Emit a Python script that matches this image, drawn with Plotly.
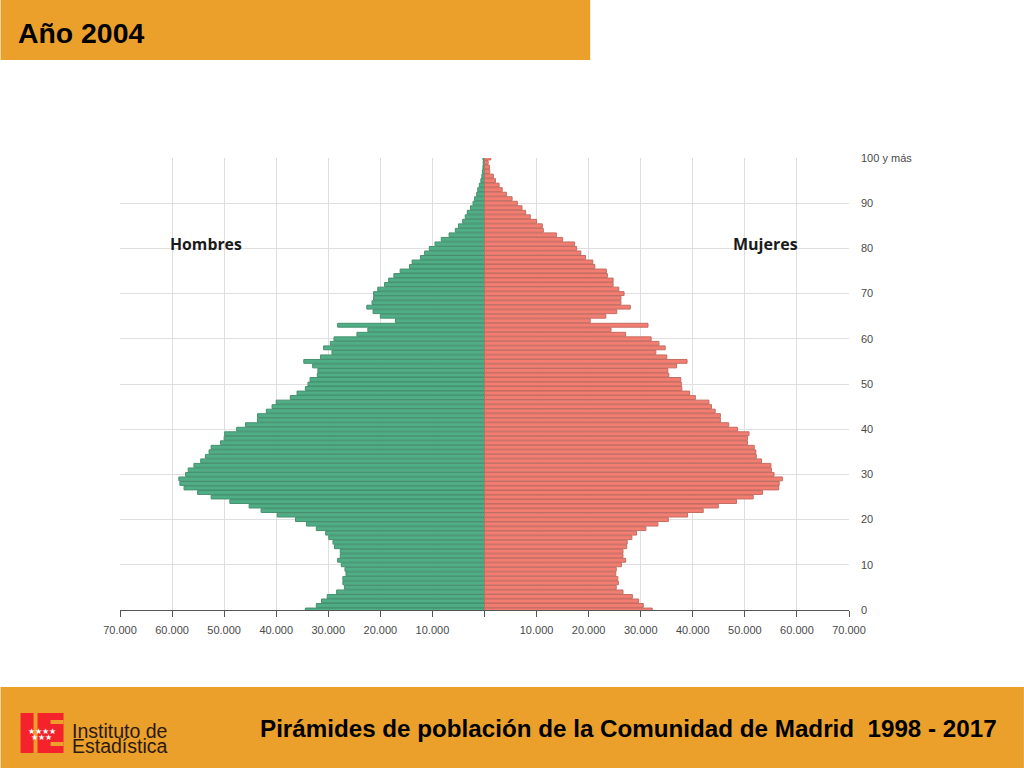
import plotly.graph_objects as go

# Edades (0 a 100 y mas)
edades = list(range(101))

hombres = [
    34400, 32300, 31300, 30200, 28400, 26900, 27200, 27200, 26600, 26800,
    27500, 28200, 27700, 27700, 28800, 29100, 29900, 30500, 32300, 34200,
    36300, 39800, 42900, 45200, 48900, 52500, 55100, 57700, 58500, 58700,
    57400, 56900, 55800, 54500, 53600, 52900, 52500, 50700, 50000, 49900,
    47600, 45900, 43600, 43600, 41900, 40800, 40000, 37300, 36000, 34400,
    33900, 33500, 32100, 32000, 33000, 34700, 31500, 29300, 30900, 29600,
    28900, 24500, 22400, 28200, 17100, 20000, 21400, 22600, 21600, 21300,
    21300, 20500, 19200, 18400, 17400, 16200, 14400, 13900, 12300, 11500,
    10600, 9500, 8300, 6800, 5600, 5000, 4200, 3700, 3300, 2700,
    2200, 1900, 1500, 1300, 1000, 700, 500, 400, 300, 250,
    300,
]

mujeres = [
    32200, 30500, 29600, 28400, 26600, 25300, 25700, 25600, 25200, 25300,
    26300, 27100, 26600, 26600, 27300, 27400, 28300, 29200, 31000, 33300,
    35300, 39000, 42000, 44900, 48400, 51600, 53400, 56500, 56600, 57200,
    55600, 55100, 55000, 53200, 52200, 52100, 51800, 50500, 50500, 50800,
    48600, 46900, 45300, 45300, 44300, 43600, 43100, 40500, 39400, 37900,
    37800, 37700, 35400, 35200, 36900, 38900, 35000, 32900, 34700, 33500,
    32000, 27100, 24300, 31400, 20300, 23300, 25400, 28000, 26200, 26200,
    26800, 25800, 24700, 24700, 23600, 23400, 21200, 20800, 19400, 18500,
    17700, 17300, 15000, 13800, 11300, 11100, 10000, 8800, 7900, 7200,
    6300, 5300, 4200, 3400, 2800, 2100, 1700, 1000, 950, 700,
    1200,
]

ticks_x = [-70000, -60000, -50000, -40000, -30000, -20000, -10000, 0,
           10000, 20000, 30000, 40000, 50000, 60000, 70000]
etiquetas_x = ["70.000", "60.000", "50.000", "40.000", "30.000", "20.000", "10.000", "",
               "10.000", "20.000", "30.000", "40.000", "50.000", "60.000", "70.000"]
ticks_y = [0, 10, 20, 30, 40, 50, 60, 70, 80, 90, 100]
etiquetas_y = ["0", "10", "20", "30", "40", "50", "60", "70", "80", "90", "100 y más"]

NARANJA = "#EBA02B"
W, H = 1024, 768
# Area del grafico en pixeles
IZQ, DER, ARR, ABA = 119.5, 849, 158, 610


# Pixeles a coordenadas de papel (el papel es el area del grafico)
def px(x):
    return (x - IZQ) / (DER - IZQ)


def py(y):
    return (ABA - y) / (ABA - ARR)


def rect(x0, y0, x1, y1, color):
    return dict(type="rect", xref="paper", yref="paper", layer="above",
                x0=px(x0), x1=px(x1), y0=py(y0), y1=py(y1),
                fillcolor=color, line=dict(width=0))


def texto(x, y, txt, size, color="#000000", font="Liberation Sans", anchor="left", bold=False):
    if bold:
        txt = "<b>" + txt + "</b>"
    return dict(xref="paper", yref="paper", x=px(x), y=py(y), text=txt, showarrow=False,
                xanchor=anchor, yanchor="middle", align=anchor, borderpad=0,
                font=dict(size=size, color=color, family=font))


fig = go.Figure()

fig.add_trace(go.Bar(y=edades, x=[-v for v in hombres], orientation="h", name="Hombres",
                     marker=dict(color="#4FAE86", line=dict(color="#44906F", width=1))))
fig.add_trace(go.Bar(y=edades, x=mujeres, orientation="h", name="Mujeres",
                     marker=dict(color="#F27D70", line=dict(color="#C46C62", width=1))))

# Bandas naranjas y logo
formas = [
    rect(0, 0, 590, 60, NARANJA),
    rect(0, 687, W, H, NARANJA),
    rect(20, 713, 63, 753, "#F4222B"),
    rect(33, 713, 37, 753, NARANJA),
    rect(50, 720, 63, 724, NARANJA),
    rect(50, 742, 63, 746, NARANJA),
]

anotaciones = [
    texto(16.5, 33, "Año 2004", 28.4, bold=True),
    texto(998.5, 728, "Pirámides de población de la Comunidad de Madrid  1998 - 2017", 24.2, anchor="right", bold=True),
    texto(169, 244, "Hombres", 15.8, color="#1A1A1A", font="Open Sans", bold=True),
    texto(732, 244, "Mujeres", 16, color="#1A1A1A", font="Open Sans", bold=True),
    texto(70, 731, "Instituto de", 19.5, color="#2A1A10"),
    texto(70, 746, "Estadística", 19.5, color="#2A1A10"),
    texto(41, 731, "★★★★", 8, color="#FFFFFF", anchor="center"),
    texto(41, 737, "★★★", 8, color="#FFFFFF", anchor="center"),
]

fig.update_layout(
    width=W,
    height=H,
    margin=dict(l=IZQ, r=W - DER, t=ARR, b=H - ABA, pad=0),
    paper_bgcolor="#FFFFFF",
    plot_bgcolor="#FFFFFF",
    barmode="overlay",
    bargap=0.14,
    showlegend=False,
    shapes=formas,
    annotations=anotaciones,
    font=dict(family="Liberation Sans", size=11, color="#4A4A4A"),
    xaxis=dict(range=[-70000, 70000], tickvals=ticks_x, ticktext=etiquetas_x, ticks="outside",
               ticklen=6, tickcolor="#555555", showline=True, linecolor="#555555", linewidth=1,
               showgrid=True, gridcolor="#DFDFDF", gridwidth=1, zeroline=False,
               ticklabelstandoff=4, tickfont=dict(size=11, color="#4A4A4A")),
    yaxis=dict(range=[0, 100], side="right", tickvals=ticks_y, ticktext=etiquetas_y, ticks="",
               showline=False, showgrid=True, gridcolor="#DFDFDF", gridwidth=1, zeroline=False,
               ticklabelstandoff=11, tickfont=dict(size=11, color="#4A4A4A")),
)

fig.write_html("out.html", config={"displayModeBar": False},
               post_script="document.body.style.margin='0';")
